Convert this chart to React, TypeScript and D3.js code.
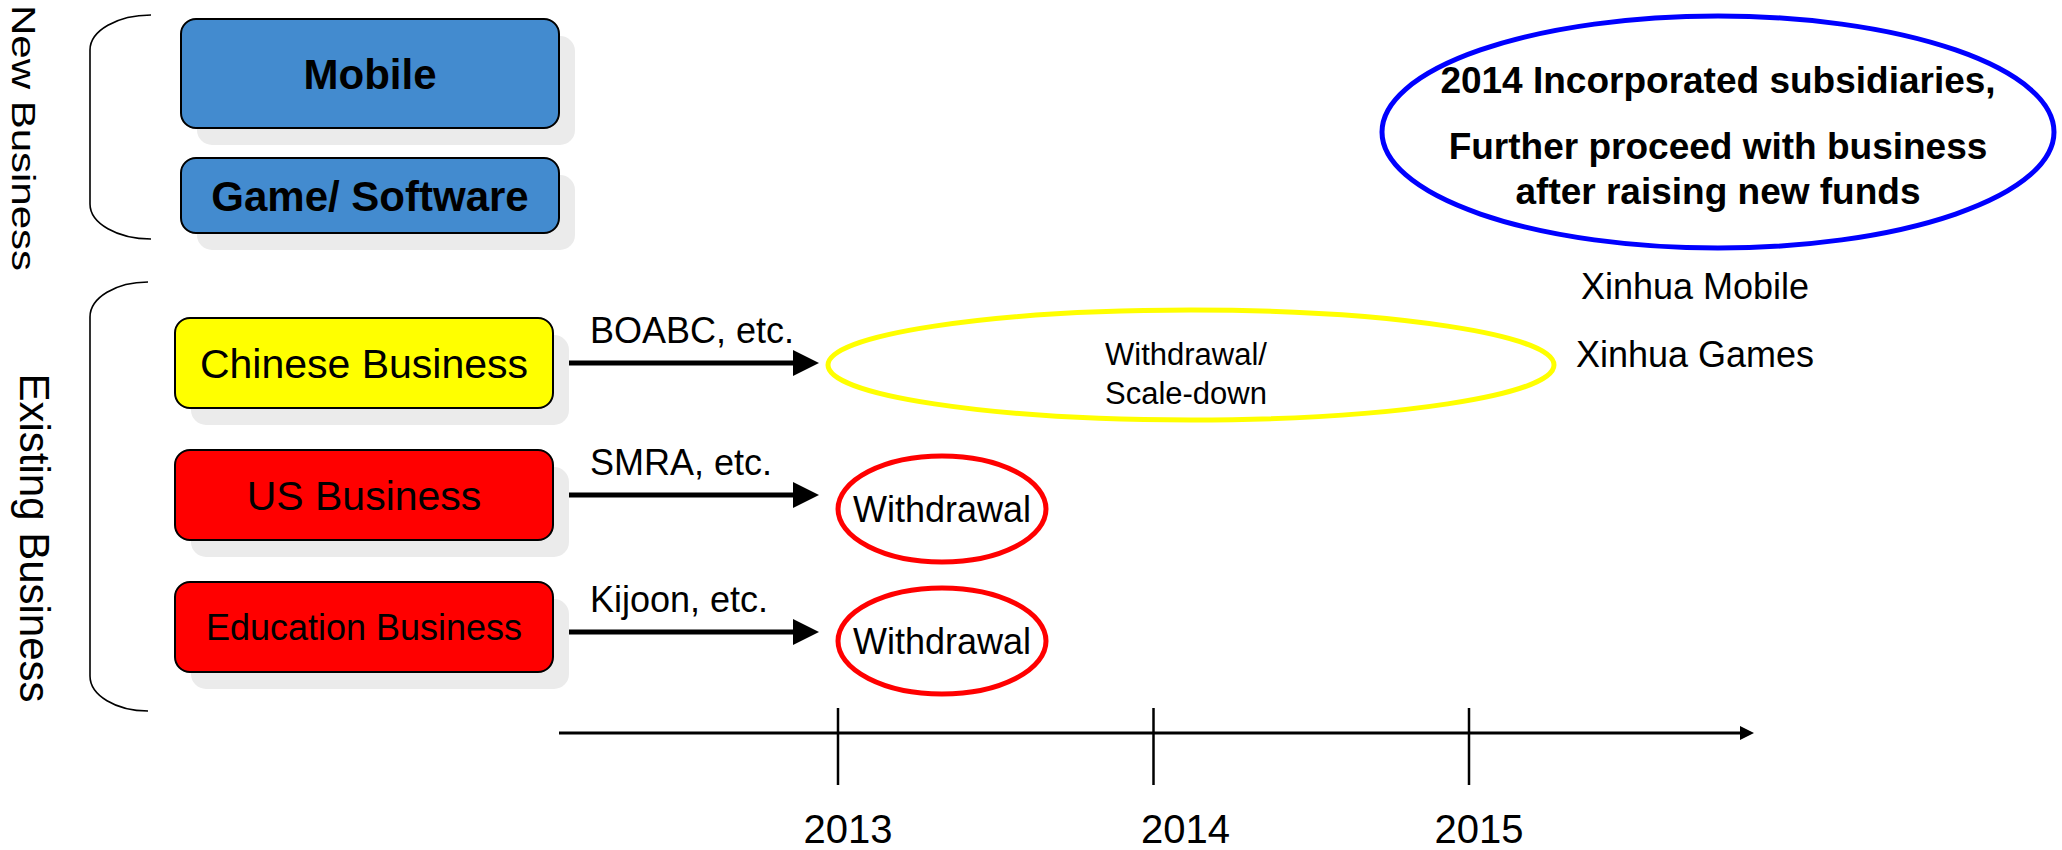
import { scaleBand, scaleLinear, scaleOrdinal, cumsum } from 'd3'

// chart content
const groupLabels = ['New Business', 'Existing Business']
const newBusiness = ['Mobile', 'Game/ Software']
const existingBusiness = ['Chinese Business', 'US Business', 'Education Business']
const partners = ['BOABC, etc.', 'SMRA, etc.', 'Kijoon, etc.']
const outcomes = [['Withdrawal/', 'Scale-down'], ['Withdrawal'], ['Withdrawal']]
const years = [2013, 2014, 2015]
const planLines = ['2014 Incorporated subsidiaries,', 'Further proceed with business', 'after raising new funds']
const subsidiaries = ['Xinhua Mobile', 'Xinhua Games']

const font = '"Liberation Sans", Arial, Helvetica, sans-serif'
const shadow = { dx: 16, dy: 17, fill: '#ebebeb' }
// the year labels are not centred exactly on their ticks
const yearLabelDx = { 2013: 10, 2014: 32, 2015: 10 }

function Box({x, y, w, h, fill, label, size, bold}) {
  return(
    <g>
      <rect x={x + shadow.dx} y={y + shadow.dy} width={w} height={h} rx={15} fill={shadow.fill} />
      <rect x={x} y={y} width={w} height={h} rx={15} fill={fill} stroke="#000" strokeWidth={2} />
      <text x={x + w / 2} y={y + h / 2 + size * 0.36} textAnchor="middle"
        fontSize={size} fontWeight={bold ? 'bold' : 'normal'}>{label}</text>
    </g>
  )
}

// curly-ish bracket: quarter ellipse, straight line, quarter ellipse
function Bracket({x0, x1, y0, y1, ry}) {
  const rx = x1 - x0
  const d = `M${x1},${y0} A${rx},${ry} 0 0 0 ${x0},${y0 + ry} L${x0},${y1 - ry} A${rx},${ry} 0 0 0 ${x1},${y1}`
  return <path d={d} fill="none" stroke="#000" strokeWidth={1.6} />
}

export default function App() {
  const view = { x: 2062, y: 850 }

  // new business rows have their own heights
  const newHeights = [109, 75]
  const newGap = 30
  const newTops = [19, ...Array.from(cumsum(newHeights)).slice(0, -1).map((s, i) => 19 + s + newGap * (i + 1))]

  // existing rows
  const yExisting = scaleBand().domain(existingBusiness).range([318, 672]).paddingInner(0.318)
  const rowColor = scaleOrdinal().domain(existingBusiness).range(['#ffff00', '#ff0000', '#ff0000'])

  // timeline
  const xYear = scaleLinear().domain([2013, 2015]).range([838, 1469])
  const axisY = 733

  const arrow = { x0: 569, x1: 819, head: 26, half: 13 }

  return(
    <svg width={view.x} height={view.y} viewBox={`0 0 ${view.x} ${view.y}`}
      style={{ position: 'absolute', left: 0, top: 0, background: '#fff' }} fontFamily={font}>
      {/* group labels */}
      <text transform="translate(12,138) rotate(90) scale(1,0.8)" textAnchor="middle" fontSize={42}>{groupLabels[0]}</text>
      <text transform="translate(20,538) rotate(90)" textAnchor="middle" fontSize={42}>{groupLabels[1]}</text>
      <Bracket x0={90} x1={151} y0={15} y1={239} ry={35} />
      <Bracket x0={90} x1={148} y0={282} y1={711} ry={35} />

      {/* new business */}
      {newBusiness.map((b, i) =>
        <Box key={b} x={181} y={newTops[i]} w={378} h={newHeights[i]} fill="#438bcf" label={b} size={42} bold />
      )}

      {/* existing business, arrows and outcomes */}
      {existingBusiness.map((b, i) => {
        const y0 = yExisting(b)
        const cy = y0 + yExisting.bandwidth() / 2
        const wide = outcomes[i].length > 1
        const rx = wide ? 363 : 104
        const ry = wide ? 55 : 53
        const ocy = wide ? cy + 2 : cy + 14
        const ocx = (wide ? 828 : 838) + rx
        const ay = i === 2 ? cy + 5 : cy
        return(
          <g key={b}>
            <Box x={175} y={y0} w={378} h={yExisting.bandwidth()} fill={rowColor(b)}
              label={b} size={b.length > 16 ? 36 : 41} />
            <line x1={arrow.x0} x2={arrow.x1 - arrow.head + 2} y1={ay} y2={ay} stroke="#000" strokeWidth={5} />
            <polygon points={`${arrow.x1 - arrow.head},${ay - arrow.half} ${arrow.x1},${ay} ${arrow.x1 - arrow.head},${ay + arrow.half}`} fill="#000" />
            <text x={590} y={ay - 20} fontSize={36}>{partners[i]}</text>
            <ellipse cx={ocx} cy={ocy} rx={rx} ry={ry} fill="none" stroke={rowColor(b)} strokeWidth={5} />
            {wide ?
              outcomes[i].map((t, j) =>
                <text key={t} x={ocx - 5} y={ocy + j * 39} textAnchor="middle" fontSize={31}>{t}</text>) :
              <text x={ocx} y={ocy + 13} textAnchor="middle" fontSize={36}>{outcomes[i][0]}</text>
            }
          </g>
        )
      })}

      {/* plan note */}
      <ellipse cx={1718} cy={132} rx={336} ry={116} fill="none" stroke="#0000ff" strokeWidth={5} />
      {planLines.map((t, i) =>
        <text key={t} x={1718} y={[93, 159, 204][i]} textAnchor="middle" fontSize={37} fontWeight="bold">{t}</text>
      )}
      {subsidiaries.map((t, i) =>
        <text key={t} x={1695} y={299 + i * 68} textAnchor="middle" fontSize={36}>{t}</text>
      )}

      {/* timeline */}
      <line x1={559} x2={1742} y1={axisY} y2={axisY} stroke="#000" strokeWidth={3} />
      <polygon points={`1740,${axisY - 7} 1754,${axisY} 1740,${axisY + 7}`} fill="#000" />
      {years.map(yr =>
        <g key={yr}>
          <line x1={xYear(yr)} x2={xYear(yr)} y1={708} y2={785} stroke="#000" strokeWidth={2.5} />
          <text x={xYear(yr) + yearLabelDx[yr]} y={843} textAnchor="middle" fontSize={40}>{yr}</text>
        </g>
      )}
    </svg>
  )
}
